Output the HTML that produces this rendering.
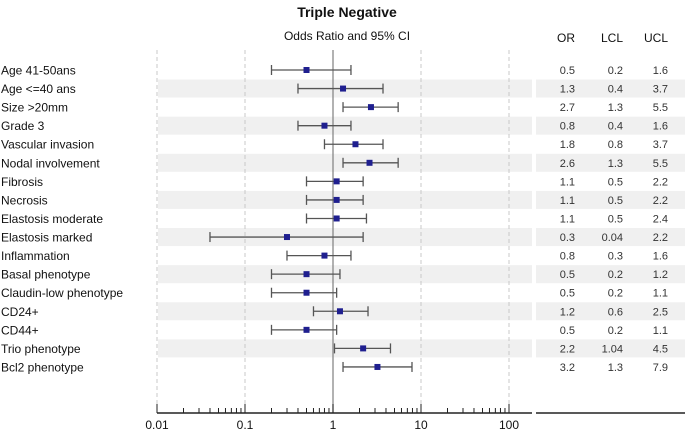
<!DOCTYPE html>
<html><head><meta charset="utf-8"><style>
html,body{margin:0;padding:0;background:#fff;width:685px;height:431px;overflow:hidden}
svg{display:block;font-family:"Liberation Sans",Arial,sans-serif}
</style></head><body>
<svg id="chart" width="685" height="431"></svg>
<script>
const labels=["Age 41-50ans","Age <=40 ans","Size >20mm","Grade 3","Vascular invasion","Nodal involvement","Fibrosis","Necrosis","Elastosis moderate","Elastosis marked","Inflammation","Basal phenotype","Claudin-low phenotype","CD24+","CD44+","Trio phenotype","Bcl2 phenotype"];
const orVals=[0.5,1.3,2.7,0.8,1.8,2.6,1.1,1.1,1.1,0.3,0.8,0.5,0.5,1.2,0.5,2.2,3.2];
const lclVals=[0.2,0.4,1.3,0.4,0.8,1.3,0.5,0.5,0.5,0.04,0.3,0.2,0.2,0.6,0.2,1.04,1.3];
const uclVals=[1.6,3.7,5.5,1.6,3.7,5.5,2.2,2.2,2.4,2.2,1.6,1.2,1.1,2.5,1.1,4.5,7.9];
const tickVals=[0.01,0.1,1,10,100];
const tickLabels=["0.01","0.1","1","10","100"];

const svg=document.getElementById('chart');
const NS='http://www.w3.org/2000/svg';
function mk(tag,attrs,parent){const e=document.createElementNS(NS,tag);for(const k in attrs)e.setAttribute(k,attrs[k]);(parent||svg).appendChild(e);return e;}
const x0=157,dec=88;
function xs(v){return x0+(Math.log10(v)+2)*dec;}
const r0=70,rs=18.56;
function ys(i){return r0+i*rs;}
const fmt=v=>String(v);

// shading
labels.forEach((l,i)=>{if(i%2===1){
 let b=mk('rect',{x:158,y:ys(i)-9,width:374,height:18,fill:'#f0f0f0'});
 
 
 let b2=mk('rect',{x:536,y:ys(i)-9,width:149,height:18,fill:'#f0f0f0'});
 
 
}});
// gridlines
tickVals.forEach(v=>{if(v!==1){
 let g=mk('line',{x1:xs(v),x2:xs(v),y1:50,y2:410,stroke:'#c8c8c8','stroke-dasharray':'4,3'});
 
 
}});
let ref=mk('line',{x1:xs(1),x2:xs(1),y1:50,y2:413,stroke:'#888','stroke-width':1.3});


// title
let t=mk('text',{x:347,y:17,'text-anchor':'middle','font-size':14,'font-weight':'bold',fill:'#111'});t.textContent='Triple Negative';

let st=mk('text',{x:347,y:40,'text-anchor':'middle','font-size':12,fill:'#111'});st.textContent='Odds Ratio and 95% CI';

const cols=[{n:'OR',x:575,d:orVals},{n:'LCL',x:623,d:lclVals},{n:'UCL',x:668,d:uclVals}];
cols.forEach(c=>{let h=mk('text',{x:c.x,y:42,'text-anchor':'end','font-size':12,fill:'#111'});h.textContent=c.n;
 });
// rows
labels.forEach((l,i)=>{
 const y=ys(i);
 let tx=mk('text',{x:1,y:y+4.5,'font-size':12,fill:'#111'});tx.textContent=l;
 
 let w=mk('line',{x1:xs(lclVals[i]),x2:xs(uclVals[i]),y1:y,y2:y,stroke:'#555','stroke-width':1.3});
 
 [lclVals[i],uclVals[i]].forEach(v=>{let c=mk('line',{x1:xs(v),x2:xs(v),y1:y-5,y2:y+5,stroke:'#555','stroke-width':1.3});
  });
 let p=mk('rect',{x:xs(orVals[i])-3,y:y-3,width:6,height:6,fill:'#1f1f8f'});
 
 cols.forEach(c=>{let v=mk('text',{x:c.x,y:y+4,'text-anchor':'end','font-size':11,fill:'#333'});v.textContent=fmt(c.d[i]);
  });
});
// axis
let ax=mk('line',{x1:157,x2:532,y1:413,y2:413,stroke:'#222','stroke-width':1.5});

let ax2=mk('line',{x1:536,x2:685,y1:413,y2:413,stroke:'#222','stroke-width':1.5});

tickVals.forEach((v,k)=>{
 let tk=mk('line',{x1:xs(v),x2:xs(v),y1:404,y2:413,stroke:'#222'});
 
 let tl=mk('text',{x:xs(v),y:429,'text-anchor':'middle','font-size':12,fill:'#111'});tl.textContent=tickLabels[k];
 
 if(k<tickVals.length-1){for(let m=2;m<=9;m++){let mt=mk('line',{x1:xs(v*m),x2:xs(v*m),y1:408,y2:413,stroke:'#222'});
  }}
});
</script>
</body></html>
